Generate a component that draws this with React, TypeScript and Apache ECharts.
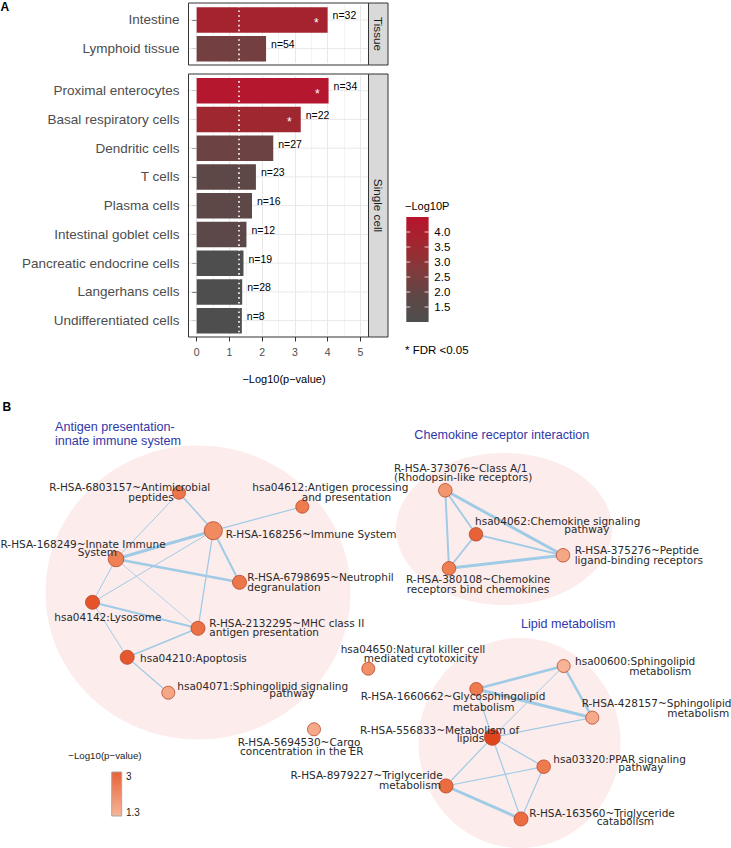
import React, { useEffect, useRef } from "react";
import * as echarts from "echarts";

// ---------------- Panel A data ----------------
const tissueCats = ["Intestine", "Lymphoid tissue"];
const tissueVals = [4.0, 2.12];
const tissueN = [32, 54];
const tissueFdr = [true, false];
const tissueColorVals = [3.75, 2.35];

const cellCats = [
  "Proximal enterocytes",
  "Basal respiratory cells",
  "Dendritic cells",
  "T cells",
  "Plasma cells",
  "Intestinal goblet cells",
  "Pancreatic endocrine cells",
  "Langerhans cells",
  "Undifferentiated cells",
];
const cellVals = [4.03, 3.18, 2.34, 1.81, 1.69, 1.52, 1.43, 1.39, 1.38];
const cellN = [34, 22, 27, 23, 16, 12, 19, 28, 8];
const cellFdr = [true, true, false, false, false, false, false, false, false];
const cellColorVals = [4.35, 3.55, 2.2, 1.75, 1.75, 1.7, 1.05, 1.0, 1.0];

const xTicks = [0, 1, 2, 3, 4, 5];
const pThreshold = 1.30103;
const colorbarTicks = [1.5, 2.0, 2.5, 3.0, 3.5, 4.0];
const colorMin = 1.0;
const colorMax = 4.5;

// ---------------- Panel B data ----------------
const nodeIds = [
  "R-HSA-6803157", "hsa04612", "R-HSA-168256", "R-HSA-168249", "R-HSA-6798695",
  "hsa04142", "R-HSA-2132295", "hsa04210", "hsa04071", "R-HSA-5694530", "hsa04650",
  "R-HSA-373076", "hsa04062", "R-HSA-375276", "R-HSA-380108",
  "hsa00600", "R-HSA-1660662", "R-HSA-428157", "R-HSA-556833", "hsa03320",
  "R-HSA-8979227", "R-HSA-163560",
];
const nodeX = [179, 302.3, 213.3, 116, 239.5, 92.5, 198, 127.2, 168.3, 314, 368.3, 445.3, 476, 563, 449, 563.7, 476.3, 592.3, 492.3, 543.7, 446, 521];
const nodeY = [492.7, 506.7, 530.7, 559, 582.3, 602.3, 628.3, 657.3, 692.7, 729.3, 668.7, 490.3, 534.3, 555.3, 568.3, 666, 689, 717.7, 737.3, 766.7, 786, 819];
const nodeLogP = [2.6, 2.5, 2.2, 2.4, 2.6, 3.3, 2.7, 3.2, 1.6, 1.55, 2.1, 1.95, 3.0, 1.6, 2.45, 1.35, 2.5, 1.5, 3.6, 2.5, 2.8, 2.8];
const nodeGeneSize = [13, 13, 18, 15.5, 14, 14, 14, 14, 13, 13, 13, 13.5, 13.5, 13.5, 13.5, 13, 13, 13, 16, 13.5, 14, 14];

const links: [string, string, number][] = [
  ["R-HSA-6803157", "R-HSA-168249", 1],
  ["R-HSA-6803157", "R-HSA-168256", 1.5],
  ["hsa04612", "R-HSA-168256", 1.2],
  ["R-HSA-168256", "R-HSA-168249", 3],
  ["R-HSA-168256", "hsa04142", 1],
  ["R-HSA-168256", "R-HSA-6798695", 2],
  ["R-HSA-168256", "R-HSA-2132295", 1.3],
  ["R-HSA-168249", "R-HSA-6798695", 2.5],
  ["R-HSA-168249", "hsa04142", 1],
  ["R-HSA-168249", "R-HSA-2132295", 0.8],
  ["hsa04142", "R-HSA-2132295", 2.2],
  ["hsa04142", "hsa04210", 1],
  ["R-HSA-2132295", "hsa04210", 1.5],
  ["hsa04210", "hsa04071", 1.2],
  ["R-HSA-373076", "hsa04062", 1.8],
  ["R-HSA-373076", "R-HSA-375276", 3],
  ["R-HSA-373076", "R-HSA-380108", 2],
  ["hsa04062", "R-HSA-375276", 1.8],
  ["hsa04062", "R-HSA-380108", 1.8],
  ["R-HSA-380108", "R-HSA-375276", 3],
  ["hsa00600", "R-HSA-1660662", 2.5],
  ["hsa00600", "R-HSA-428157", 2.5],
  ["hsa00600", "R-HSA-556833", 1],
  ["R-HSA-1660662", "R-HSA-428157", 3],
  ["R-HSA-1660662", "R-HSA-556833", 1.2],
  ["R-HSA-556833", "R-HSA-428157", 1.2],
  ["R-HSA-556833", "hsa03320", 1.2],
  ["R-HSA-556833", "R-HSA-8979227", 1.2],
  ["R-HSA-556833", "R-HSA-163560", 1.2],
  ["R-HSA-8979227", "hsa03320", 1.2],
  ["R-HSA-8979227", "R-HSA-163560", 3],
  ["hsa03320", "R-HSA-163560", 1.2],
];

// cluster hulls: [cx, cy, rx, ry]
const clusters = [
  [198, 592.5, 152.5, 147],
  [504, 529, 108, 76],
  [519.5, 743, 101, 105],
];

// label lines: [text, x, y, align]
const nodeLabels: [string, number, number, string][][] = [
  [["R-HSA-6803157~Antimicrobial", 49.3, 487, "left"], ["peptides", 128.3, 497, "left"]],
  [["hsa04612:Antigen processing", 252.3, 487.3, "left"], ["and presentation", 301.7, 497, "left"]],
  [["R-HSA-168256~Immune System", 225.7, 534.3, "left"]],
  [["R-HSA-168249~Innate Immune", 0.5, 544, "left"], ["System", 77.7, 552.3, "left"]],
  [["R-HSA-6798695~Neutrophil", 247.3, 577.3, "left"], ["degranulation", 247.3, 586.7, "left"]],
  [["hsa04142:Lysosome", 54.3, 617.3, "left"]],
  [["R-HSA-2132295~MHC class II", 209.3, 623, "left"], ["antigen presentation", 209.3, 632.3, "left"]],
  [["hsa04210:Apoptosis", 140, 658.3, "left"]],
  [["hsa04071:Sphingolipid signaling", 177.3, 685.7, "left"], ["pathway", 269.3, 693.3, "left"]],
  [["R-HSA-5694530~Cargo", 237.7, 741.7, "left"], ["concentration in the ER", 240, 750.7, "left"]],
  [["hsa04650:Natural killer cell", 340.7, 648.7, "left"], ["mediated cytotoxicity", 363.7, 657.7, "left"]],
  [["R-HSA-373076~Class A/1", 394, 468.3, "left"], ["(Rhodopsin-like receptors)", 394, 477.3, "left"]],
  [["hsa04062:Chemokine signaling", 475, 520.7, "left"], ["pathway", 564.3, 529, "left"]],
  [["R-HSA-375276~Peptide", 574.7, 550.3, "left"], ["ligand-binding receptors", 574.7, 559.7, "left"]],
  [["R-HSA-380108~Chemokine", 406, 579.3, "left"], ["receptors bind chemokines", 406.7, 589, "left"]],
  [["hsa00600:Sphingolipid", 575, 661.3, "left"], ["metabolism", 629.3, 671.3, "left"]],
  [["R-HSA-1660662~Glycosphingolipid", 360.7, 696, "left"], ["metabolism", 452.7, 706.7, "left"]],
  [["R-HSA-428157~Sphingolipid", 581.7, 703.3, "left"], ["metabolism", 667.3, 713.3, "left"]],
  [["R-HSA-556833~Metabolism of", 360, 729.7, "left"], ["lipids", 456.7, 737.7, "left"]],
  [["hsa03320:PPAR signaling", 553.3, 759.3, "left"], ["pathway", 618.3, 767.3, "left"]],
  [["R-HSA-8979227~Triglyceride", 442.7, 775, "right"], ["metabolism", 379, 785, "left"]],
  [["R-HSA-163560~Triglyceride", 529.3, 813.3, "left"], ["catabolism", 596.7, 821, "left"]],
];

const clusterTitles: [string, number, number][] = [
  ["Antigen presentation-", 55, 426.7],
  ["innate immune system", 55, 441],
  ["Chemokine receptor interaction", 414.3, 435],
  ["Lipid metabolism", 521, 624],
];

const nodeColorMin = 1.3;
const nodeColorMax = 3.6;
const nodeLegendTicks = [3, 1.3];

// ---------------- helpers ----------------
const W = 731;
const H = 848;
const FONT = "'Liberation Sans', Arial, Helvetica, sans-serif";
const NFONT = "'DejaVu Sans', sans-serif";

function hexToRgb(h: string) {
  const n = parseInt(h.slice(1), 16);
  return [(n >> 16) & 255, (n >> 8) & 255, n & 255];
}
function lerpColors(t: number, cols: string[]) {
  t = Math.max(0, Math.min(1, t));
  const seg = t * (cols.length - 1);
  const i = Math.min(cols.length - 2, Math.floor(seg));
  const f = seg - i;
  const a = hexToRgb(cols[i]);
  const b = hexToRgb(cols[i + 1]);
  const c = a.map((v, k) => Math.round(v + (b[k] - v) * f));
  return `rgb(${c[0]},${c[1]},${c[2]})`;
}

const barColors = ["#4E4E4E", "#5F4646", "#833A3C", "#A2262F", "#B8142E"];
const nodeColors = ["#F7B598", "#EE7E50", "#E0441C"];

function buildOption() {
  const gridL = 188.5;
  const gridW = 180;
  const xmin = -0.25;
  const xmax = 5.25;
  const majorC = "#E8E8E8";
  const minorC = "#F3F3F3";
  const splitColors = ["rgba(0,0,0,0)", majorC, "rgba(0,0,0,0)", minorC];

  const panelFrames = [
    { y: 3, h: 62, label: "Tissue" },
    { y: 74, h: 263, label: "Single cell" },
  ];

  const barXAxis = (gi: number) => ({
    type: "value",
    gridIndex: gi,
    min: xmin,
    max: xmax,
    interval: 0.25,
    axisLine: { show: false },
    axisTick: { show: false },
    axisLabel: { show: false },
    splitLine: { show: true, lineStyle: { color: splitColors, width: 1 } },
  });
  const barYAxis = (gi: number, cats: string[]) => ({
    type: "category",
    gridIndex: gi,
    data: cats,
    inverse: true,
    axisLine: { show: false },
    axisTick: { show: true, alignWithLabel: true, length: 4.5, lineStyle: { color: "#333", width: 1 } },
    axisLabel: { color: "#4D4D4D", fontSize: 13.5, margin: 9, fontFamily: FONT },
    splitLine: { show: false },
  });

  const hGrid = (ai: number, cats: string[]) => ({
    type: "custom",
    xAxisIndex: ai,
    yAxisIndex: ai,
    z: 1,
    silent: true,
    data: cats.map((_, i) => [0, i]),
    encode: { x: 0, y: 1 },
    renderItem: (params: any, api: any) => {
      const y = api.coord([0, api.value(1)])[1];
      const cs = params.coordSys;
      return {
        type: "line",
        shape: { x1: cs.x, y1: y, x2: cs.x + cs.width, y2: y },
        style: { stroke: majorC, lineWidth: 1 },
      };
    },
  });

  const mainBars = (ai: number, vals: number[], cvals: number[], ns: number[]) => ({
    type: "bar",
    xAxisIndex: ai,
    yAxisIndex: ai,
    z: 2,
    barWidth: 25.5,
    data: vals.map((v, i) => [v, i, cvals[i]]),
    encode: { x: 0, y: 1 },
    label: {
      show: true,
      position: "right",
      distance: 5,
      offset: [0, -4.5],
      fontSize: 10.5,
      color: "#000",
      fontFamily: FONT,
      formatter: (p: any) => "n=" + ns[p.dataIndex],
    },
    markLine: {
      silent: true,
      symbol: "none",
      label: { show: false },
      lineStyle: { color: "#FFFFFF", type: [1.6, 3.2], width: 1.6 },
      data: [{ xAxis: pThreshold }],
      z: 5,
    },
  });

  const starBars = (ai: number, vals: number[], fdr: boolean[]) => ({
    type: "bar",
    xAxisIndex: ai,
    yAxisIndex: ai,
    z: 3,
    silent: true,
    barWidth: 25.5,
    barGap: "-100%",
    data: vals.map((v, i) => [v, i]),
    encode: { x: 0, y: 1 },
    itemStyle: { color: "rgba(0,0,0,0)" },
    label: {
      show: true,
      position: "insideRight",
      distance: 9,
      offset: [0, 3],
      fontSize: 12,
      color: "#FFFFFF",
      fontFamily: FONT,
      formatter: (p: any) => (fdr[p.dataIndex] ? "*" : ""),
    },
  });

  const graphic: any[] = [];
  // panel letters
  graphic.push({ type: "text", x: 0.5, y: 7, style: { text: "A", fontSize: 12, fontWeight: "bold", fill: "#000", fontFamily: FONT, verticalAlign: "middle" }, z: 100 });
  graphic.push({ type: "text", x: 2.5, y: 407, style: { text: "B", fontSize: 12, fontWeight: "bold", fill: "#000", fontFamily: FONT, verticalAlign: "middle" }, z: 100 });

  // panel frames and strips
  panelFrames.forEach((f) => {
    graphic.push({ type: "rect", shape: { x: gridL, y: f.y, width: gridW, height: f.h }, style: { fill: "none", stroke: "#333", lineWidth: 1 }, z: 60, silent: true });
    graphic.push({ type: "rect", shape: { x: gridL + gridW, y: f.y, width: 19.5, height: f.h }, style: { fill: "#D9D9D9", stroke: "#333", lineWidth: 1 }, z: 60, silent: true });
    graphic.push({
      type: "text",
      x: gridL + gridW + 9.75,
      y: f.y + f.h / 2,
      rotation: -Math.PI / 2,
      style: { text: f.label, fontSize: 11.7, fill: "#1A1A1A", fontFamily: FONT, align: "center", verticalAlign: "middle" },
      z: 61,
    });
  });

  // x-axis title
  graphic.push({ type: "text", x: 284, y: 379, style: { text: "\u2212Log10(p\u2212value)", fontSize: 11, fill: "#000", fontFamily: FONT, align: "center", verticalAlign: "middle" }, z: 100 });

  // colour legend panel A
  const cbX = 406.3, cbY = 217, cbW = 22.3, cbH = 105;
  graphic.push({ type: "text", x: 405, y: 206, style: { text: "\u2212Log10P", fontSize: 11, fill: "#000", fontFamily: FONT, verticalAlign: "middle" }, z: 100 });
  graphic.push({
    type: "rect",
    shape: { x: cbX, y: cbY, width: cbW, height: cbH },
    style: {
      fill: {
        type: "linear", x: 0, y: 1, x2: 0, y2: 0,
        colorStops: barColors.map((c, i) => ({ offset: i / (barColors.length - 1), color: c })),
      },
    },
    z: 100,
  });
  colorbarTicks.forEach((t) => {
    const y = cbY + cbH - ((t - colorMin) / (colorMax - colorMin)) * cbH;
    graphic.push({ type: "line", shape: { x1: cbX, y1: y, x2: cbX + 4, y2: y }, style: { stroke: "#fff", lineWidth: 0.8 }, z: 101 });
    graphic.push({ type: "line", shape: { x1: cbX + cbW - 4, y1: y, x2: cbX + cbW, y2: y }, style: { stroke: "#fff", lineWidth: 0.8 }, z: 101 });
    graphic.push({ type: "text", x: 434.3, y, style: { text: t.toFixed(1), fontSize: 11.5, fill: "#000", fontFamily: FONT, verticalAlign: "middle" }, z: 100 });
  });
  graphic.push({ type: "text", x: 405, y: 350, style: { text: "* FDR <0.05", fontSize: 11.5, fill: "#000", fontFamily: FONT, verticalAlign: "middle" }, z: 100 });

  // panel B: cluster titles
  clusterTitles.forEach(([t, x, y]) => {
    graphic.push({ type: "text", x, y, style: { text: t, fontSize: 12.6, fill: "#3138A8", fontFamily: FONT, verticalAlign: "middle" }, z: 100 });
  });
  // node labels
  nodeLabels.forEach((lines) => {
    lines.forEach(([t, x, y, al]) => {
      graphic.push({ type: "text", x, y, silent: true, style: { text: t, fontSize: 10.5, fill: "#2A2A2A", fontFamily: NFONT, align: al, verticalAlign: "middle" }, z: 100 });
    });
  });
  // panel B legend
  graphic.push({ type: "text", x: 68.3, y: 755, style: { text: "\u2212Log10(p\u2212value)", fontSize: 9.7, fill: "#222", fontFamily: FONT, verticalAlign: "middle" }, z: 100 });
  const lb = { x: 111.7, y: 772, w: 10, h: 44 };
  const cTop = lerpColors((3 - nodeColorMin) / (nodeColorMax - nodeColorMin), nodeColors);
  const cBot = lerpColors(0, nodeColors);
  graphic.push({
    type: "rect",
    shape: { x: lb.x, y: lb.y, width: lb.w, height: lb.h },
    style: { fill: { type: "linear", x: 0, y: 0, x2: 0, y2: 1, colorStops: [{ offset: 0, color: cTop }, { offset: 1, color: cBot }] }, stroke: "#A8A8A8", lineWidth: 1 },
    z: 100,
  });
  nodeLegendTicks.forEach((t) => {
    const y = t === 3 ? lb.y + 4.7 : lb.y + lb.h - 3.7;
    graphic.push({ type: "text", x: 126, y, style: { text: String(t), fontSize: 10, fill: "#222", fontFamily: FONT, verticalAlign: "middle" }, z: 100 });
  });

  const graphNodes = nodeIds.map((id, i) => ({
    name: id,
    value: [nodeX[i], nodeY[i]],
    symbolSize: nodeGeneSize[i],
    itemStyle: {
      color: lerpColors((nodeLogP[i] - nodeColorMin) / (nodeColorMax - nodeColorMin), nodeColors),
      borderColor: "#B5482C",
      borderWidth: 0.8,
    },
  }));
  const graphLinks = links.map(([s, t, w]) => ({
    source: s,
    target: t,
    lineStyle: { width: w, color: "#9FCBE6", opacity: 1, curveness: 0 },
  }));

  return {
    animation: false,
    backgroundColor: "#FFFFFF",
    grid: [
      { left: gridL, top: 5.6, width: gridW, height: 57.4, containLabel: false },
      { left: gridL, top: 76.3, width: gridW, height: 258.7, containLabel: false },
      { left: 196.7, top: 336, width: 163.6, height: 1, containLabel: false },
      { left: 0, top: 0, width: W, height: H, containLabel: false },
    ],
    xAxis: [
      barXAxis(0),
      barXAxis(1),
      {
        type: "value",
        gridIndex: 2,
        min: 0,
        max: 5,
        interval: 1,
        position: "bottom",
        axisLine: { show: false },
        axisTick: { show: true, length: 4.5, lineStyle: { color: "#333", width: 1 } },
        axisLabel: { show: true, color: "#4D4D4D", fontSize: 10.5, margin: 9, fontFamily: FONT, formatter: (v: number) => (xTicks.includes(v) ? String(v) : "") },
        splitLine: { show: false },
      },
      { type: "value", gridIndex: 3, min: 0, max: W, show: false },
    ],
    yAxis: [
      barYAxis(0, tissueCats),
      barYAxis(1, cellCats),
      { type: "value", gridIndex: 2, show: false, min: 0, max: 1 },
      { type: "value", gridIndex: 3, min: 0, max: H, inverse: true, show: false },
    ],
    visualMap: [
      {
        type: "continuous",
        show: false,
        min: colorMin,
        max: colorMax,
        dimension: 2,
        seriesIndex: [2, 4],
        inRange: { color: barColors },
      },
    ],
    series: [
      hGrid(0, tissueCats),
      hGrid(1, cellCats),
      mainBars(0, tissueVals, tissueColorVals, tissueN),
      starBars(0, tissueVals, tissueFdr),
      mainBars(1, cellVals, cellColorVals, cellN),
      starBars(1, cellVals, cellFdr),
      {
        type: "custom",
        xAxisIndex: 3,
        yAxisIndex: 3,
        z: 1,
        silent: true,
        data: clusters,
        encode: { x: 0, y: 1 },
        renderItem: (params: any, api: any) => {
          const c = api.coord([api.value(0), api.value(1)]);
          const s = api.size([api.value(2), api.value(3)]);
          return { type: "ellipse", shape: { cx: c[0], cy: c[1], rx: s[0], ry: s[1] }, style: { fill: "#FDECEC" } };
        },
      },
      {
        type: "graph",
        coordinateSystem: "cartesian2d",
        xAxisIndex: 3,
        yAxisIndex: 3,
        layout: "none",
        z: 3,
        silent: true,
        edgeSymbol: ["none", "none"],
        label: { show: false },
        emphasis: { disabled: true },
        data: graphNodes,
        links: graphLinks,
      },
    ],
    graphic,
  };
}

export default function App() {
  const ref = useRef<HTMLDivElement>(null);
  useEffect(() => {
    if (!ref.current) return;
    const chart = echarts.init(ref.current, null, { renderer: "svg", width: W, height: H });
    chart.setOption(buildOption() as any);
    return () => chart.dispose();
  }, []);
  return (
    <div
      ref={ref}
      style={{ position: "fixed", left: 0, top: 0, width: W, height: H, background: "#fff" }}
    />
  );
}
